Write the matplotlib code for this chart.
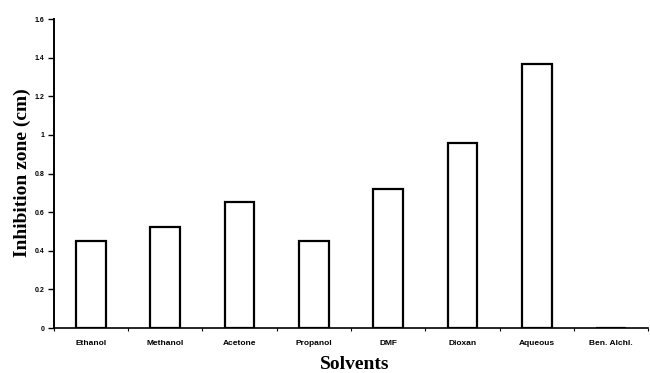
import numpy as np
import matplotlib.pyplot as plt

solvents = ['Ethanol', 'Methanol', 'Acetone', 'Propanol', 'DMF', 'Dioxan', 'Aqueous', 'Ben. Alchl.']
zone = [0.45, 0.525, 0.655, 0.452, 0.718, 0.96, 1.367, 0.0]
yticks = [0, 0.2, 0.4, 0.6, 0.8, 1, 1.2, 1.4, 1.6]
ytick_labels = ['0', '0.2', '0.4', '0.6', '0.8', '1', '1.2', '1.4', '1.6']

fig = plt.figure(figsize=(6.5, 3.73), dpi=100)
ax = fig.add_axes([0.083, 0.1206, 0.914, 0.8284])

x = np.arange(len(solvents))
ax.bar(x, zone, width=0.4, color='white', edgecolor='black', linewidth=1.6)

ax.set_xlim(-0.5, len(solvents) - 0.5)
ax.set_ylim(0, 1.6)

ax.spines['top'].set_visible(False)
ax.spines['right'].set_visible(False)
ax.spines['left'].set_linewidth(1.4)
ax.spines['bottom'].set_linewidth(1.2)

ax.set_yticks(yticks)
ax.set_yticklabels(ytick_labels, fontsize=5, fontweight='bold', family='Liberation Sans')
ax.tick_params(axis='y', direction='out', length=4, width=1, pad=3)

# ticks at category boundaries, names at the centres
ax.set_xticks(np.arange(len(solvents) + 1) - 0.5)
ax.set_xticklabels([])
ax.tick_params(axis='x', direction='out', length=2, width=0.8)
for i, s in enumerate(solvents):
    ax.text(i, -0.06, s, ha='center', va='top', fontsize=6, fontweight='bold',
            family='Liberation Sans', transform=ax.transData)

fig.text(22 / 650, 0.536, 'Inhibition zone (cm)', rotation=90, ha='center', va='center',
         fontsize=14, fontweight='bold', family='Liberation Serif')
fig.text(0.545, 0.011, 'Solvents', ha='center', va='baseline',
         fontsize=14, fontweight='bold', family='Liberation Serif')

fig.savefig('out.png', dpi=100)
